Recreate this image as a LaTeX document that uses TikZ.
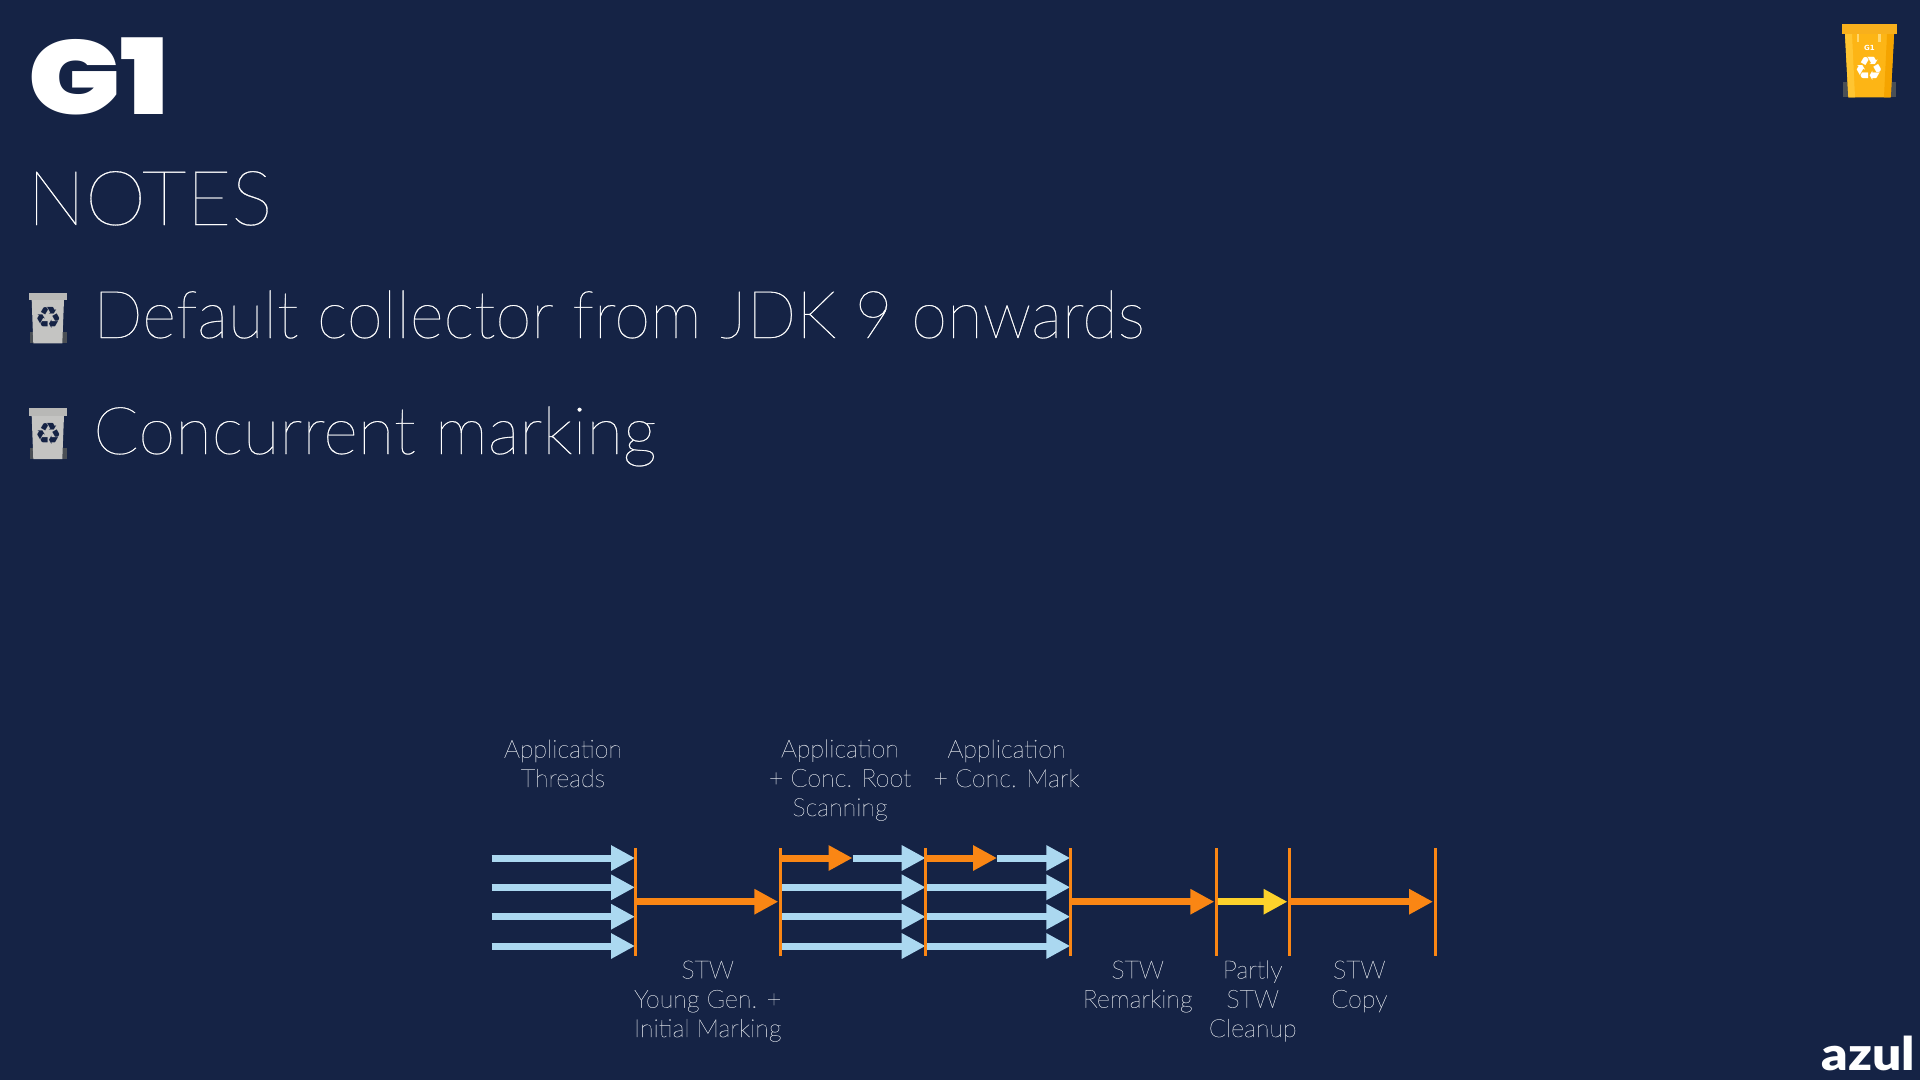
\documentclass[tikz,border=0pt]{standalone}
\usepackage{fontspec}
\usetikzlibrary{arrows.meta}
\setmainfont{Lato}[UprightFont={* Thin},BoldFont={* Black},FakeBold=0.4]
\newfontfamily\labelfont{Lato}[UprightFont={* Thin},FakeBold=0.6]
\newfontfamily\headfont{Poppins}[UprightFont={* Black}]
\newfontfamily\logofont{Lato}[UprightFont={* Black}]
\newfontfamily\symfont{DejaVu Sans}
\definecolor{bgnavy}{HTML}{152345}
\definecolor{threadblue}{HTML}{ABD8F0}
\definecolor{stworange}{HTML}{FA8614}
\definecolor{partyellow}{HTML}{FDD22B}
\definecolor{labelgrey}{HTML}{C4C9D3}
\definecolor{binbody}{HTML}{FDB515}
\definecolor{binlight}{HTML}{FFC531}
\definecolor{bindark}{HTML}{F5A400}
\definecolor{binlid}{HTML}{F8B01C}
\definecolor{wheelgrey}{HTML}{4A4F55}
\definecolor{greybody}{HTML}{C4C4C2}
\definecolor{greylid}{HTML}{B8B8B6}
\tikzset{
  bluearrow/.style={draw=threadblue,line width=7pt,-{Triangle[length=24pt,width=24pt,fill=threadblue]}},
  orangearrow/.style={draw=stworange,line width=7pt,-{Triangle[length=24pt,width=24pt,fill=stworange]}},
  yellowarrow/.style={draw=partyellow,line width=7pt,-{Triangle[length=24pt,width=24pt,fill=partyellow]}},
  phasebar/.style={draw=stworange,line width=3pt},
  lbl/.style={text=labelgrey,align=center,inner sep=0pt,anchor=base,font=\labelfont\fontsize{25}{29.3}\selectfont},
  headline/.style={text=white,inner sep=0pt,anchor=base west},
}
\begin{document}
\begin{tikzpicture}[x=1pt,y=-1pt]
\useasboundingbox (0,0) rectangle (1920,1080);
\fill[bgnavy] (0,0) rectangle (1920,1080);

% title
\node[headline,font=\headfont\fontsize{105}{105}\selectfont] (title) at (28,114) {\scalebox{1.165}[1]{G1}};
\node[headline,font=\fontsize{76}{80}\selectfont] (notes) at (27,225) {\scalebox{1.02}[1]{NOTES}};
\node[headline,font=\fontsize{66}{70}\selectfont] (item1) at (93,338) {\scalebox{0.988}[1]{Default collector from JDK 9 onwards}};
\node[headline,font=\fontsize{66}{70}\selectfont] (item2) at (93,454) {\scalebox{1.015}[1]{Concurrent marking}};

% grey bins
\foreach \dy in {0,115.7}{
  \begin{scope}[yshift=-\dy pt]
    \fill[wheelgrey] (29.5,332) rectangle (66.5,343.3);
    \fill[greybody] (31.7,300) -- (64,300) -- (62.3,343.3) -- (33.3,343.3) -- cycle;
    \fill[greylid] (29,292.7) rectangle (66.7,300);
    \node[text=bgnavy,inner sep=0pt,font=\symfont\bfseries\fontsize{30}{30}\selectfont] (recyc\dy) at (48.3,318) {♻};
  \end{scope}
}

% yellow bin
\fill[wheelgrey] (1842.7,82) rectangle (1896,97.3);
\fill[binbody] (1845,34) -- (1894,34) -- (1890.7,97.3) -- (1848.3,97.3) -- cycle;
\fill[binlight] (1845,34) -- (1852,34) -- (1855,97.3) -- (1848.3,97.3) -- cycle;
\fill[bindark] (1887,34) -- (1894,34) -- (1890.7,97.3) -- (1884,97.3) -- cycle;
\fill[binlid] (1842.3,24) rectangle (1896.7,34);
\fill[binlight!70!white] (1856.7,34) rectangle (1859.3,42);
\fill[binlight!70!white] (1878.3,34) rectangle (1881,42);
\node[text=white,inner sep=0pt,font=\symfont\bfseries\fontsize{7}{7}\selectfont] (bing) at (1869.3,47.7) {G1};
\node[text=white,inner sep=0pt,font=\symfont\bfseries\fontsize{33}{33}\selectfont] (binr) at (1869.3,68.5) {♻};

% logo
\node[text=white,inner sep=0pt,anchor=base east,font=\logofont\fontsize{46}{46}\selectfont] (azul) at (1915,1070) {\scalebox{1.12}[1]{azul}};

% diagram coordinates
\foreach \n/\x in {a/635,b/780.3,c/925.7,d/1070.3,e/1216.3,f/1289,g/1435}{
  \coordinate (\n top) at (\x,848.3);
  \coordinate (\n bot) at (\x,955.7);
  \coordinate (\n mid) at (\x,901.7);
}
\coordinate (r1) at (491.5,858);
\coordinate (r2) at (491.5,887.3);
\coordinate (r3) at (491.5,916.7);
\coordinate (r4) at (491.5,946);

% threads before first pause
\foreach \r in {1,2,3,4}{
  \draw[bluearrow] (r\r) -- (r\r -| atop);
}
% concurrent sections, rows 2-4
\foreach \r in {2,3,4}{
  \draw[bluearrow] (r\r -| bmid) ++(2,0) -- (r\r -| ctop);
  \draw[bluearrow] (r\r -| ctop) ++(1,0) -- (r\r -| dtop);
}
% concurrent sections, row 1
\coordinate (split1) at (852.5,858);
\coordinate (split2) at (997,858);
\draw[orangearrow] (r1 -| bmid) -- (split1);
\draw[bluearrow] (split1) -- (r1 -| ctop);
\draw[orangearrow] (r1 -| ctop) -- (split2);
\draw[bluearrow] (split2) -- (r1 -| dtop);
% pauses
\draw[orangearrow] (amid) -- ([xshift=-2pt]bmid);
\draw[orangearrow] (dmid) -- ([xshift=-2pt]emid);
\draw[yellowarrow] ([xshift=2pt]emid) -- ([xshift=-1.5pt]fmid);
\draw[orangearrow] (fmid) -- ([xshift=-2pt]gmid);
% phase bars
\foreach \n in {a,b,c,d,e,f,g}{
  \draw[phasebar] (\n top) -- (\n bot);
}

% labels (anchor base = last line's baseline)
\node[lbl] (l1) at (563,787) {Application\\Threads};
\node[lbl] (l2) at (840,816) {Application\\+ Conc. Root\\Scanning};
\node[lbl] (l3) at (1006.5,787) {Application\\+ Conc. Mark};
\node[lbl] (l4) at (707.7,1037) {STW\\Young Gen. +\\Initial Marking};
\node[lbl] (l5) at (1137.7,1007.7) {STW\\Remarking};
\node[lbl] (l6) at (1252.7,1037) {Partly\\STW\\Cleanup};
\node[lbl] (l7) at (1359.3,1007.7) {STW\\Copy};
\end{tikzpicture}
\end{document}
